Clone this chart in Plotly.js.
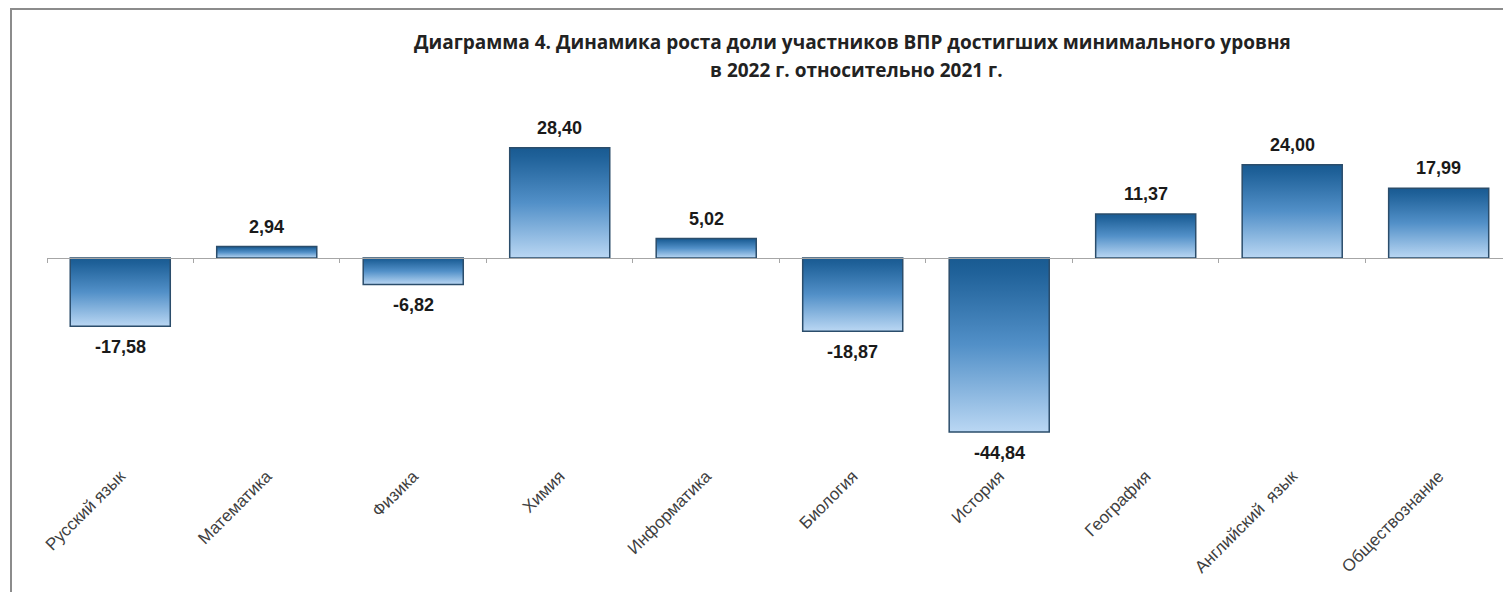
<!DOCTYPE html>
<html>
<head>
<meta charset="utf-8">
<script src="https://cdn.plot.ly/plotly-3.0.1.min.js"></script>
<style>
  html, body { margin: 0; padding: 0; background: #ffffff; }
  #chart { width: 1503px; height: 592px; }
</style>
</head>
<body>
<div id="chart"></div>
<script>
// ---- data ----
const categories = ["Русский язык", "Математика", "Физика", "Химия", "Информатика",
                    "Биология", "История", "География", "Английский  язык", "Обществознание"];
const values = [-17.58, 2.94, -6.82, 28.40, 5.02, -18.87, -44.84, 11.37, 24.00, 17.99];
const titleLine1 = "Диаграмма 4. Динамика роста доли участников ВПР достигших минимального уровня";
const titleLine2 = "в 2022 г. относительно 2021 г.";

// ---- layout geometry ----
const W = 1503, H = 592;
const M = { l: 47, r: 0, t: 100, b: 130 };
const yRange = [-52.58, 40.72];
const xRange = [-0.5, 9.439];
const plotW = W - M.l - M.r, plotH = H - M.t - M.b;
const px2paperX = px => (px - M.l) / plotW;
const py2paperY = py => (H - M.b - py) / plotH;

const fmt = v => v.toFixed(2).replace('.', ',');

const labelAnnotations = values.map((v, i) => ({
  x: categories[i], y: v, xref: 'x', yref: 'y',
  text: '<b>' + fmt(v) + '</b>',
  showarrow: false,
  yanchor: v >= 0 ? 'bottom' : 'top',
  yshift: v >= 0 ? 8 : -9,
  font: { family: 'Liberation Sans, Arial, sans-serif', size: 18, color: '#1a1a1a' }
}));

const titleFont = { family: 'Open Sans, sans-serif', size: 19, color: '#222222' };
const titleAnnotations = [
  { text: '<b>' + titleLine1 + '</b>', xref: 'paper', yref: 'paper',
    x: px2paperX(852), y: py2paperY(42), xanchor: 'center', yanchor: 'middle', showarrow: false,
    font: titleFont },
  { text: '<b>' + titleLine2 + '</b>', xref: 'paper', yref: 'paper',
    x: px2paperX(856), y: py2paperY(70), xanchor: 'center', yanchor: 'middle', showarrow: false,
    font: titleFont }
];

const frameX = px2paperX(11), frameTop = py2paperY(9), frameBottom = py2paperY(600);

const traces = [
  {
    type: 'bar', x: categories, y: values,
    marker: { color: '#4a86bd', line: { color: '#2b4d6b', width: 1.5 } },
    hoverinfo: 'x+y', cliponaxis: false
  },
  {
    type: 'scatter', x: categories.map((c, i) => i), y: values, xaxis: 'x2', yaxis: 'y',
    mode: 'markers', marker: { opacity: 0 }, hoverinfo: 'skip', showlegend: false
  }
];

const layout = {
  width: W, height: H,
  margin: M,
  paper_bgcolor: '#ffffff', plot_bgcolor: 'rgba(0,0,0,0)',
  showlegend: false,
  bargap: 0.317,
  xaxis: {
    type: 'category', range: xRange, showline: false, showgrid: false, zeroline: false,
    ticks: '', tickangle: -45,
    tickfont: { family: 'Liberation Sans, Arial, sans-serif', size: 17, color: '#404040' },
    fixedrange: true
  },
  xaxis2: {
    overlaying: 'x', anchor: 'free',
    position: (0 - yRange[0]) / (yRange[1] - yRange[0]),
    type: 'linear', range: xRange,
    showline: true, linecolor: '#a6a6a6', linewidth: 1,
    ticks: 'outside', ticklen: 4, tickcolor: '#a6a6a6', tickwidth: 1,
    tickmode: 'array', tickvals: categories.map((c, i) => i - 0.5).concat([categories.length - 0.5]),
    showticklabels: false, showgrid: false, zeroline: false, fixedrange: true
  },
  yaxis: {
    range: yRange, visible: false, showgrid: false, zeroline: false, fixedrange: true
  },
  annotations: titleAnnotations.concat(labelAnnotations),
  shapes: [
    { type: 'path', xref: 'paper', yref: 'paper',
      path: `M ${frameX} ${frameBottom} L ${frameX} ${frameTop} L 1.02 ${frameTop}`,
      line: { color: '#8c8c8c', width: 2 } }
  ]
};

Plotly.newPlot('chart', traces, layout, { displayModeBar: false, staticPlot: true }).then(gd => {
  const svg = gd.querySelector('svg.main-svg');
  const defs = svg.querySelector('defs');
  const NS = 'http://www.w3.org/2000/svg';
  const grad = document.createElementNS(NS, 'linearGradient');
  grad.setAttribute('id', 'barGrad');
  grad.setAttribute('x1', '0'); grad.setAttribute('y1', '0');
  grad.setAttribute('x2', '0'); grad.setAttribute('y2', '1');
  [['0', '#195a91'], ['0.08', '#1f6199'], ['0.5', '#5290c8'], ['1', '#bad7f3']].forEach(([o, c]) => {
    const s = document.createElementNS(NS, 'stop');
    s.setAttribute('offset', o); s.setAttribute('stop-color', c);
    grad.appendChild(s);
  });
  defs.appendChild(grad);
  gd.querySelectorAll('.barlayer .point path').forEach(p => { p.style.fill = 'url(#barGrad)'; });
});
</script>
</body>
</html>
